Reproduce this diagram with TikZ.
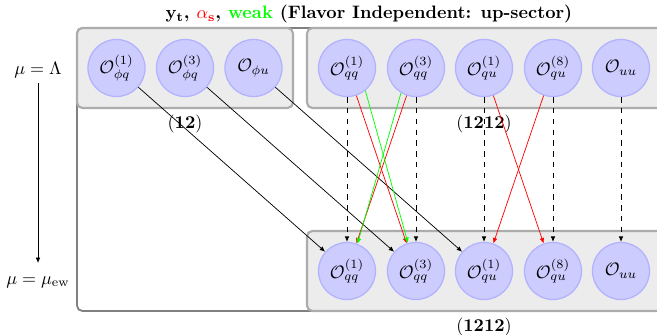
\documentclass[tikz,border=0pt]{standalone}
\usetikzlibrary{arrows.meta}
\begin{document}
\begin{tikzpicture}[x=0.5556pt,y=-0.5556pt,
  op/.style={circle,fill=blue!20,draw=blue!30,line width=0.7pt,minimum size=31.7pt,inner sep=0pt},
  grpbox/.style={rounded corners=3pt,fill=gray!15,draw=gray!65,line width=1.2pt},
  frame/.style={rounded corners=3pt,draw=gray,line width=1pt},
  arr/.style={-{Latex[length=3pt,width=2.6pt]},line width=0.4pt},
  lbl/.style={inner sep=0pt}]
\useasboundingbox (0,0) rectangle (657,335);
% outer frame
\draw[frame] (77,28) rectangle (667,311);
% group boxes
\draw[grpbox] (77,28) rectangle (293,108);
\draw[grpbox] (307,28) rectangle (663,108);
\draw[grpbox] (307,231) rectangle (663,311);
% title
\node[lbl] (title) at (369,14) {\textbf{$\mathbf{y_t}$, \textcolor{red}{$\alpha_{\mathbf{s}}$}, \textcolor{green}{weak} (Flavor Independent: up-sector)}};
% scale labels
\node[lbl] (muL) at (38,70) {$\mu=\Lambda$};
\node[lbl] (muE) at (38,282) {$\mu=\mu_{\rm ew}$};
\coordinate (aS) at (38,83);
\coordinate (aE) at (38,263);
\draw[arr] (aS) -- (aE);
% group labels
\node[lbl] (l12) at (185,124) {$(\mathbf{12})$};
\node[lbl] (l1212t) at (484,124) {$(\mathbf{1212})$};
\node[lbl] (l1212b) at (484,327) {$(\mathbf{1212})$};
% top operators
\node[op] (pq1) at (116.5,68) {$\mathcal{O}_{\phi q}^{(1)}$};
\node[op] (pq3) at (185,68) {$\mathcal{O}_{\phi q}^{(3)}$};
\node[op] (pu) at (253.5,68) {$\mathcal{O}_{\phi u}$};
\node[op] (qq1t) at (347,68) {$\mathcal{O}_{qq}^{(1)}$};
\node[op] (qq3t) at (416,68) {$\mathcal{O}_{qq}^{(3)}$};
\node[op] (qu1t) at (484,68) {$\mathcal{O}_{qu}^{(1)}$};
\node[op] (qu8t) at (553,68) {$\mathcal{O}_{qu}^{(8)}$};
\node[op] (uut) at (621,68) {$\mathcal{O}_{uu}$};
% bottom operators
\node[op] (qq1b) at (347,271) {$\mathcal{O}_{qq}^{(1)}$};
\node[op] (qq3b) at (416,271) {$\mathcal{O}_{qq}^{(3)}$};
\node[op] (qu1b) at (484,271) {$\mathcal{O}_{qu}^{(1)}$};
\node[op] (qu8b) at (553,271) {$\mathcal{O}_{qu}^{(8)}$};
\node[op] (uub) at (621,271) {$\mathcal{O}_{uu}$};
% yt arrows
\draw[arr] (pq1) -- (qq1b);
\draw[arr] (pq3) -- (qq3b);
\draw[arr] (pu) -- (qu1b);
% self mixing (dashed)
\draw[arr,dashed] (qq1t) -- (qq1b);
\draw[arr,dashed] (qq3t) -- (qq3b);
\draw[arr,dashed] (qu1t) -- (qu1b);
\draw[arr,dashed] (qu8t) -- (qu8b);
\draw[arr,dashed] (uut) -- (uub);
% strong
\draw[arr,red] (qq1t) -- (qq3b);
\draw[arr,red] (qq3t) -- (qq1b);
\draw[arr,red] (qu1t) -- (qu8b);
\draw[arr,red] (qu8t) -- (qu1b);
% weak
\draw[arr,green] (qq1t.-51) -- (qq3b.106);
\draw[arr,green] (qq3t.-121) -- (qq1b.69);
\end{tikzpicture}
\end{document}
